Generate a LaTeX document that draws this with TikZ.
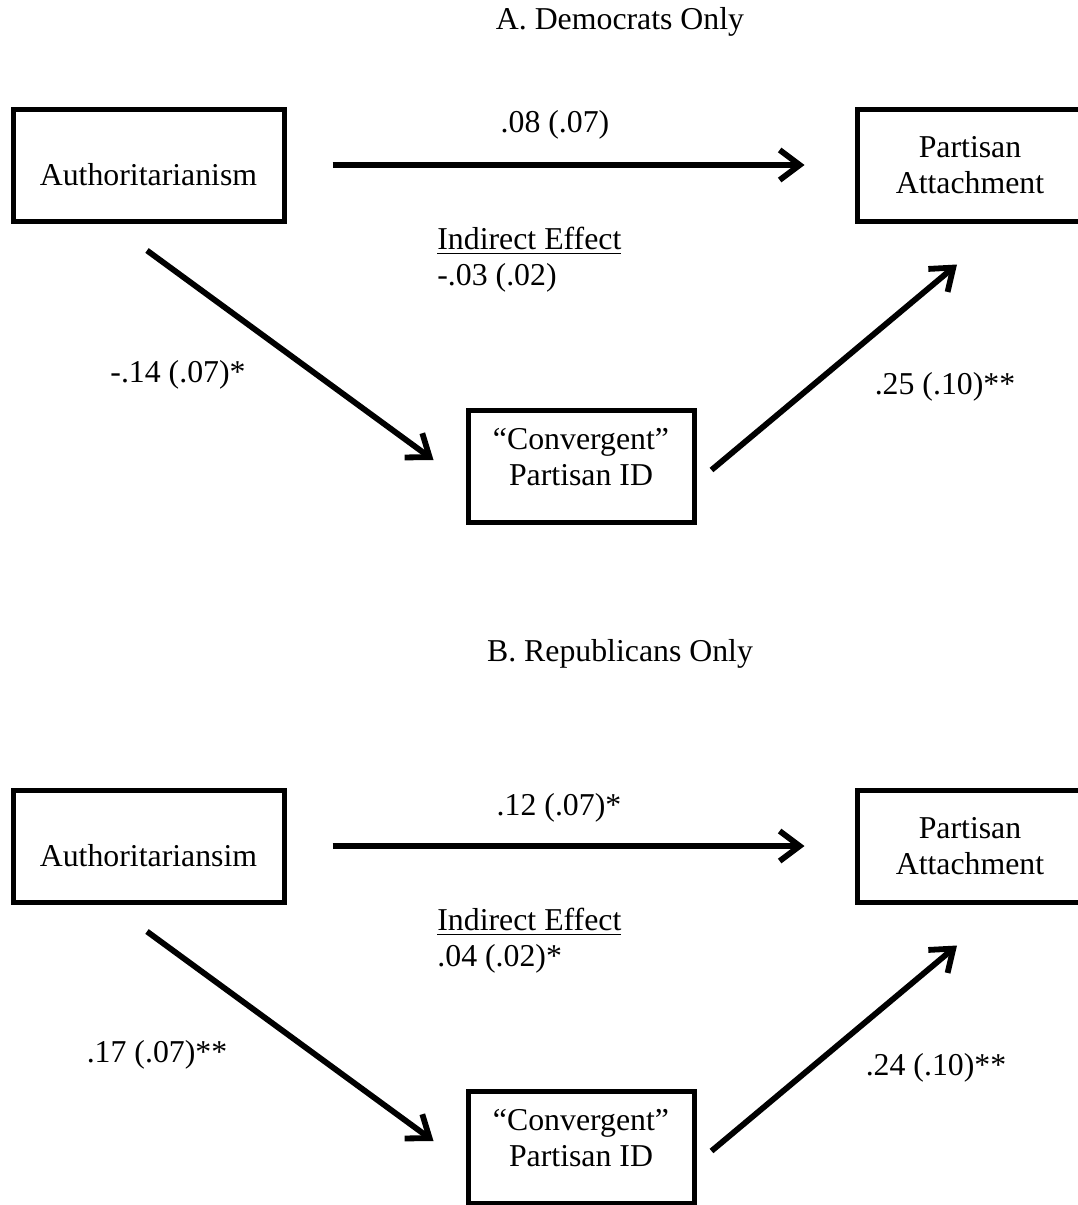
\documentclass[tikz,border=0pt]{standalone}
\usepackage{fontspec}
\setmainfont{Liberation Serif}
\usepackage{tikz}
\usepackage{xcolor}
\usetikzlibrary{arrows.meta}

\begin{document}
\begin{tikzpicture}[x=0.5pt, y=-0.5pt,
    every node/.style={font=\fontsize{15.9}{18}\selectfont},
    varbox/.style={draw, line width=2.5pt, align=center, inner sep=0pt,
      minimum width=113pt, minimum height=56pt},
    coef/.style={inner sep=0pt},
    effect/.style={line width=2.9pt, -{Straight Barb[length=10pt,width=15pt]}}]
   \useasboundingbox (0,0) rectangle (1077,1205);
   % Panel A.
   \node[coef] (titleA) at (620,22) {A. Democrats Only};
   \node[varbox, minimum width=135.5pt, text height=20pt, text depth=0pt] (authA) at (148.5,165) {Authoritarianism};
   \node[varbox] (attA) at (970,165) {Partisan\\Attachment};
   \node[varbox, text depth=9pt] (convA) at (581,466) {“Convergent”\\Partisan ID};
    \draw[effect, shorten <=23pt, shorten >=25pt] (authA) -- (attA);
    \draw[effect] ([shift={(-1.5,27)}]authA.south) -- ([shift={(-32,-6)}]convA.west);
    \draw[effect] ([shift={(15,4)}]convA.east) -- ([shift={(-13,41)}]attA.south);
   \node[coef] (directA) at (555,125) {.08 (.07)};
   \node[coef] (pathaA) at (178,375) {-.14 (.07)*};
   \node[coef] (pathbA) at (945,387) {.25 (.10)**};
   \node[coef, anchor=west, align=left] (indirectA) at (437,260) {\underline{Indirect Effect}\\-.03 (.02)};
   % Panel B.
   \node[coef] (titleB) at (620,654) {B. Republicans Only};
   \begin{scope}[yshift=-340.5pt]
   \node[varbox, minimum width=135.5pt, text height=20pt, text depth=0pt] (authB) at (148.5,165) {Authoritariansim};
   \node[varbox] (attB) at (970,165) {Partisan\\Attachment};
   \node[varbox, text depth=9pt] (convB) at (581,466) {“Convergent”\\Partisan ID};
    \draw[effect, shorten <=23pt, shorten >=25pt] (authB) -- (attB);
    \draw[effect] ([shift={(-1.5,27)}]authB.south) -- ([shift={(-32,-6)}]convB.west);
    \draw[effect] ([shift={(15,4)}]convB.east) -- ([shift={(-13,41)}]attB.south);
   \node[coef] (directB) at (559,127) {.12 (.07)*};
   \node[coef] (pathaB) at (157,374) {.17 (.07)**};
   \node[coef] (pathbB) at (936,387) {.24 (.10)**};
   \node[coef, anchor=west, align=left] (indirectB) at (437,260) {\underline{Indirect Effect}\\.04 (.02)*};
   \end{scope}
\end{tikzpicture}
\end{document}
